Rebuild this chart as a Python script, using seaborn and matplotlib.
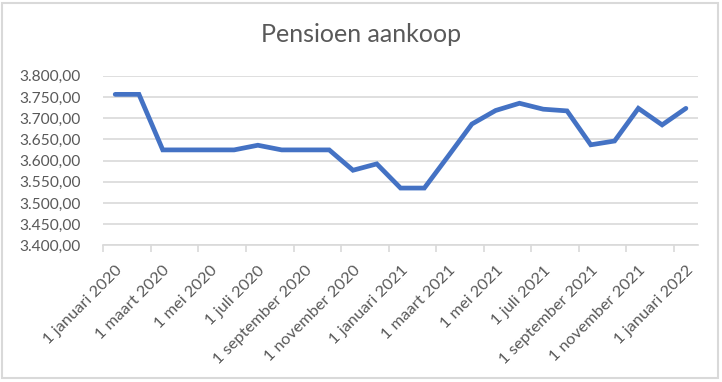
import pandas as pd
import matplotlib.pyplot as plt
import matplotlib.patches as patches
from matplotlib.ticker import FuncFormatter
import seaborn as sns

# Pensioen aankoop, one value per month (Jan 2020 - Jan 2022)
months = pd.date_range('2020-01-01', periods=25, freq='MS')
values = [3756, 3756, 3625, 3625, 3625, 3625, 3636, 3625, 3625, 3625,
          3577, 3592, 3535, 3535, 3610, 3686, 3718, 3735, 3721, 3717,
          3637, 3646, 3723, 3684, 3723]
dutch_months = ['januari', 'februari', 'maart', 'april', 'mei', 'juni', 'juli',
                'augustus', 'september', 'oktober', 'november', 'december']

df = pd.DataFrame({'maand': months, 'waarde': values})
df['idx'] = range(len(df))

sns.set_style('white')
plt.rcParams['font.family'] = ['Lato', 'DejaVu Sans']
text_col = '#595959'
grid_col = '#d9d9d9'

fig = plt.figure(figsize=(7.22, 3.82), dpi=100)
ax = fig.add_axes([103.3 / 722, 1 - 245.3 / 382, (697.8 - 103.3) / 722, (245.3 - 75.7) / 382])

sns.lineplot(x='idx', y='waarde', data=df, color='#4472C4', linewidth=3.4, ax=ax,
             solid_joinstyle='miter')

ax.set_xlim(-0.5, len(df) - 0.5)
ax.set_ylim(3400, 3800)
ax.set_yticks(range(3400, 3801, 50))
ax.yaxis.set_major_formatter(FuncFormatter(lambda v, p: f'{int(v):,}'.replace(',', '.') + ',00'))
ax.grid(axis='y', color=grid_col, linewidth=1.2)
ax.set_axisbelow(True)

# labels in the middle of each two-month slot, tick marks on the slot edges
label_pos = df['idx'][::2]
ax.set_xticks(label_pos)
ax.set_xticklabels([f"1 {dutch_months[d.month - 1]} {d.year}" for d in df['maand'][::2]],
                   rotation=45, ha='right', rotation_mode='anchor')
ax.set_xticks([i - 0.5 for i in label_pos], minor=True)
ax.tick_params(axis='x', which='major', length=0, pad=13, labelsize=11.8, labelcolor=text_col)
ax.tick_params(axis='x', which='minor', length=5, width=1.2, color=grid_col, direction='out', bottom=True)
ax.tick_params(axis='y', length=0, pad=16, labelsize=11.2, labelcolor=text_col)

for s in ['top', 'right', 'left']:
    ax.spines[s].set_visible(False)
ax.spines['bottom'].set_color(grid_col)
ax.spines['bottom'].set_linewidth(1.2)
ax.set_xlabel('')
ax.set_ylabel('')

fig.text(0.5, 1 - 34 / 382, 'Pensioen aankoop', ha='center', va='center',
         fontsize=18, color=text_col)
fig.patches.append(patches.Rectangle((1.5 / 722, 4.5 / 382), 716.5 / 722, 375 / 382,
                                     transform=fig.transFigure, fill=False,
                                     edgecolor=grid_col, linewidth=1.5))

plt.savefig('out.png', dpi=100)
